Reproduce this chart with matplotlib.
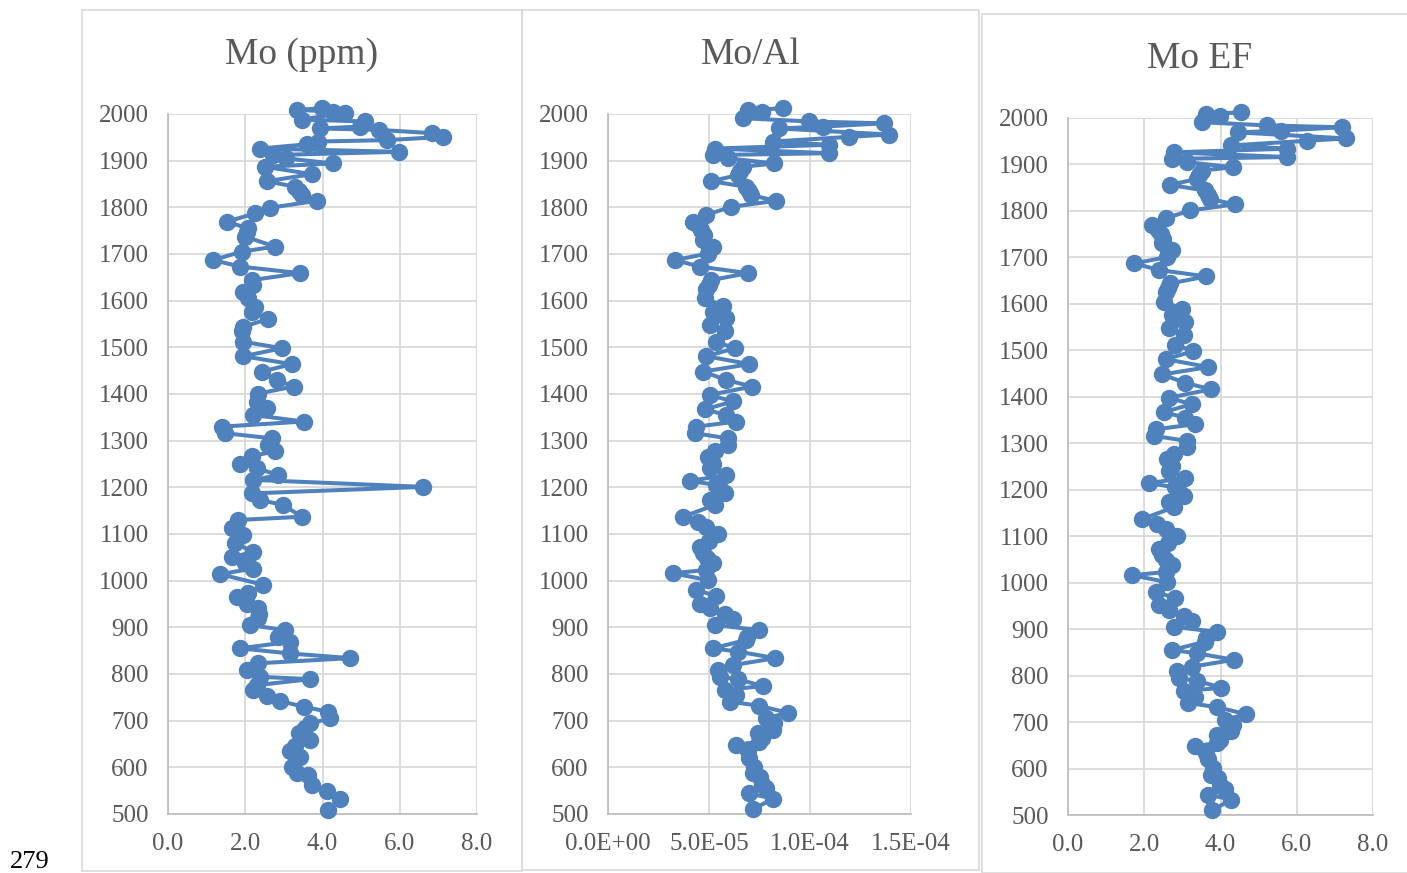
import numpy as np
import matplotlib
matplotlib.use("Agg")
import matplotlib.pyplot as plt
from matplotlib.patches import Rectangle
from matplotlib.ticker import FuncFormatter

plt.rcParams['font.family'] = ['Liberation Serif', 'DejaVu Serif']

# Mo (ppm) profile
mo_years = [2012, 2009, 2005, 2003, 1988, 1984, 1973, 1969, 1966, 1959,
            1951, 1944, 1941, 1935, 1926, 1919, 1912, 1905, 1894, 1887,
            1871, 1856, 1844, 1835, 1826, 1814, 1799, 1787, 1769, 1755,
            1748, 1737, 1716, 1705, 1687, 1673, 1659, 1644, 1634, 1619,
            1605, 1587, 1575, 1561, 1544, 1534, 1512, 1498, 1481, 1464,
            1448, 1430, 1416, 1401, 1383, 1369, 1355, 1341, 1330, 1316,
            1305, 1291, 1277, 1267, 1251, 1241, 1226, 1216, 1201, 1187,
            1173, 1162, 1137, 1130, 1112, 1098, 1080, 1062, 1050, 1037,
            1026, 1014, 991, 973, 966, 951, 941, 929, 919, 905,
            894, 880, 869, 855, 844, 834, 823, 809, 794, 789,
            776, 766, 753, 742, 730, 719, 705, 694, 684, 673,
            658, 645, 634, 623, 601, 587, 583, 562, 550, 533,
            509]
mo_ppm = [3.98, 3.33, 4.28, 4.59, 3.46, 5.10, 4.97, 3.94, 5.45, 6.83,
          7.13, 5.66, 3.89, 3.59, 2.38, 5.97, 2.73, 3.05, 4.28, 2.51,
          3.72, 2.56, 3.29, 3.38, 3.46, 3.85, 2.64, 2.25, 1.52, 2.08,
          2.05, 2.00, 2.77, 1.91, 1.17, 1.87, 3.42, 2.17, 2.21, 1.95,
          2.08, 2.25, 2.17, 2.60, 1.95, 1.91, 1.95, 2.95, 1.95, 3.20,
          2.43, 2.82, 3.25, 2.34, 2.30, 2.56, 2.21, 3.51, 1.39, 1.48,
          2.69, 2.60, 2.77, 2.17, 1.87, 2.30, 2.86, 2.21, 6.61, 2.17,
          2.38, 2.99, 3.46, 1.82, 1.65, 1.95, 1.74, 2.21, 1.65, 2.00,
          2.21, 1.35, 2.47, 2.08, 1.78, 2.04, 2.34, 2.36, 2.34, 2.12,
          3.03, 2.86, 3.16, 1.87, 3.16, 4.72, 2.34, 2.04, 2.38, 3.68,
          2.30, 2.21, 2.56, 2.90, 3.51, 4.15, 4.20, 3.68, 3.55, 3.38,
          3.68, 3.30, 3.16, 3.42, 3.20, 3.33, 3.63, 3.72, 4.11, 4.46,
          4.15]

# Mo/Al and Mo EF profiles
al_years = [2012, 2009, 2005, 1991, 1984, 1980, 1973, 1969, 1956, 1951,
            1941, 1934, 1926, 1916, 1912, 1905, 1894, 1887, 1878, 1869,
            1856, 1844, 1835, 1826, 1814, 1801, 1784, 1769, 1760, 1751,
            1740, 1730, 1716, 1708, 1701, 1687, 1673, 1659, 1644, 1634,
            1626, 1605, 1589, 1576, 1562, 1548, 1534, 1512, 1498, 1481,
            1464, 1448, 1430, 1416, 1398, 1384, 1367, 1355, 1341, 1330,
            1316, 1305, 1291, 1277, 1266, 1251, 1241, 1226, 1214, 1205,
            1194, 1187, 1173, 1162, 1137, 1126, 1116, 1100, 1085, 1073,
            1059, 1048, 1037, 1023, 1016, 1001, 980, 967, 951, 941,
            929, 917, 905, 894, 880, 873, 855, 848, 834, 819,
            809, 794, 789, 774, 766, 755, 741, 732, 717, 705,
            694, 685, 680, 673, 662, 655, 648, 634, 620, 601,
            587, 580, 565, 555, 544, 533, 510]
mo_al_e5 = [8.65, 6.92, 7.60, 6.68, 9.97, 13.67, 10.62, 8.49, 13.90, 11.94,
            8.16, 10.95, 5.28, 10.95, 5.20, 5.94, 8.24, 6.68, 6.55, 6.43,
            5.11, 6.84, 7.00, 7.09, 8.32, 6.10, 4.87, 4.21, 4.50, 4.62,
            4.75, 4.70, 5.20, 5.00, 4.95, 3.31, 4.54, 6.92, 5.11, 5.00,
            4.87, 4.79, 5.69, 5.20, 5.86, 5.03, 5.77, 5.36, 6.27, 4.87,
            7.00, 4.70, 5.86, 7.14, 5.03, 6.18, 4.79, 5.86, 6.35, 4.38,
            4.29, 5.94, 5.94, 5.28, 4.95, 5.20, 5.03, 5.86, 4.05, 5.36,
            5.60, 5.77, 5.03, 5.28, 3.72, 4.46, 4.87, 5.44, 5.00, 4.54,
            4.70, 4.90, 5.20, 4.87, 3.22, 4.95, 4.38, 5.36, 4.54, 5.03,
            5.77, 6.18, 5.28, 7.47, 6.90, 6.84, 5.20, 6.43, 8.29, 6.18,
            5.44, 5.53, 6.43, 7.66, 5.77, 6.35, 6.02, 7.47, 8.90, 7.83,
            8.24, 8.10, 8.16, 7.42, 7.60, 7.47, 6.35, 6.92, 7.00, 7.25,
            7.17, 7.50, 7.60, 7.83, 7.00, 8.16, 7.20]
mo_ef = [4.54, 3.63, 3.99, 3.51, 5.23, 7.18, 5.58, 4.46, 7.30, 6.27,
         4.28, 5.75, 2.77, 5.75, 2.73, 3.12, 4.33, 3.51, 3.44, 3.38,
         2.68, 3.59, 3.68, 3.72, 4.37, 3.20, 2.56, 2.21, 2.36, 2.43,
         2.49, 2.47, 2.73, 2.63, 2.60, 1.74, 2.38, 3.63, 2.68, 2.63,
         2.56, 2.51, 2.99, 2.73, 3.08, 2.64, 3.03, 2.81, 3.29, 2.56,
         3.68, 2.47, 3.08, 3.75, 2.64, 3.24, 2.51, 3.08, 3.33, 2.30,
         2.25, 3.12, 3.12, 2.77, 2.60, 2.73, 2.64, 3.08, 2.13, 2.81,
         2.94, 3.03, 2.64, 2.77, 1.95, 2.34, 2.56, 2.86, 2.63, 2.38,
         2.47, 2.57, 2.73, 2.56, 1.69, 2.60, 2.30, 2.81, 2.38, 2.64,
         3.03, 3.24, 2.77, 3.92, 3.62, 3.59, 2.73, 3.38, 4.35, 3.24,
         2.86, 2.90, 3.38, 4.02, 3.03, 3.33, 3.16, 3.92, 4.67, 4.11,
         4.33, 4.25, 4.28, 3.90, 3.99, 3.92, 3.33, 3.63, 3.68, 3.81,
         3.76, 3.94, 3.99, 4.11, 3.68, 4.28, 3.78]

W, H = 1407, 873
BLUE = '#4F81BD'
GRID = '#D9D9D9'
TXT = '#595959'

fig = plt.figure(figsize=(W / 100, H / 100), dpi=100)

def px_rect(x0, y0, x1, y1):
    # pixel box (top-left origin) -> figure fraction
    return [x0 / W, 1 - y1 / H, (x1 - x0) / W, (y1 - y0) / H]

# light panel frames
frames = [(82, 10, 522, 871), (522, 10, 979, 870), (982, 14, 1412, 873)]
for (x0, y0, x1, y1) in frames:
    fig.patches.append(Rectangle((x0 / W, 1 - y1 / H), (x1 - x0) / W, (y1 - y0) / H,
                                 transform=fig.transFigure, fill=False,
                                 edgecolor=GRID, linewidth=1.2))

panels = [
    dict(box=(168, 114, 477, 814), x=mo_ppm, y=mo_years, xlim=(0, 8),
         xticks=[0, 2, 4, 6, 8], fmt=lambda v, p: f"{v:.1f}", title='Mo (ppm)',
         tx=302, ty=55),
    dict(box=(608, 114, 911, 814), x=np.array(mo_al_e5) * 1e-5, y=al_years,
         xlim=(0, 1.5e-4), xticks=[0, 5e-5, 1e-4, 1.5e-4],
         fmt=lambda v, p: f"{v:.1E}", title='Mo/Al', tx=751, ty=55),
    dict(box=(1068, 118, 1373, 815), x=mo_ef, y=al_years, xlim=(0, 8),
         xticks=[0, 2, 4, 6, 8], fmt=lambda v, p: f"{v:.1f}", title='Mo EF',
         tx=1200, ty=59),
]

for p in panels:
    ax = fig.add_axes(px_rect(*p['box']))
    ax.plot(p['x'], p['y'], color=BLUE, lw=2.9, marker='o', ms=11.5,
            markerfacecolor=BLUE, markeredgecolor=BLUE, clip_on=False, zorder=3)
    ax.set_xlim(*p['xlim'])
    ax.set_ylim(500, 2000)
    ax.set_xticks(p['xticks'])
    ax.set_yticks(range(500, 2001, 100))
    ax.xaxis.set_major_formatter(FuncFormatter(p['fmt']))
    ax.grid(True, color=GRID, lw=1.3)
    ax.set_axisbelow(True)
    for s in ['top', 'right']:
        ax.spines[s].set_visible(False)
    for s in ['left', 'bottom']:
        ax.spines[s].set_color('#BFBFBF')
        ax.spines[s].set_linewidth(1.3)
    ax.tick_params(axis='both', length=0, labelsize=18, labelcolor=TXT)
    ax.tick_params(axis='y', pad=14)
    ax.tick_params(axis='x', pad=14)
    fig.text(p['tx'] / W, 1 - p['ty'] / H, p['title'], ha='center', va='center',
             fontsize=27, color=TXT)

fig.text(30 / W, 1 - 862 / H, '279', ha='center', va='center', fontsize=19, color='black')

fig.savefig('out.png', dpi=100)
